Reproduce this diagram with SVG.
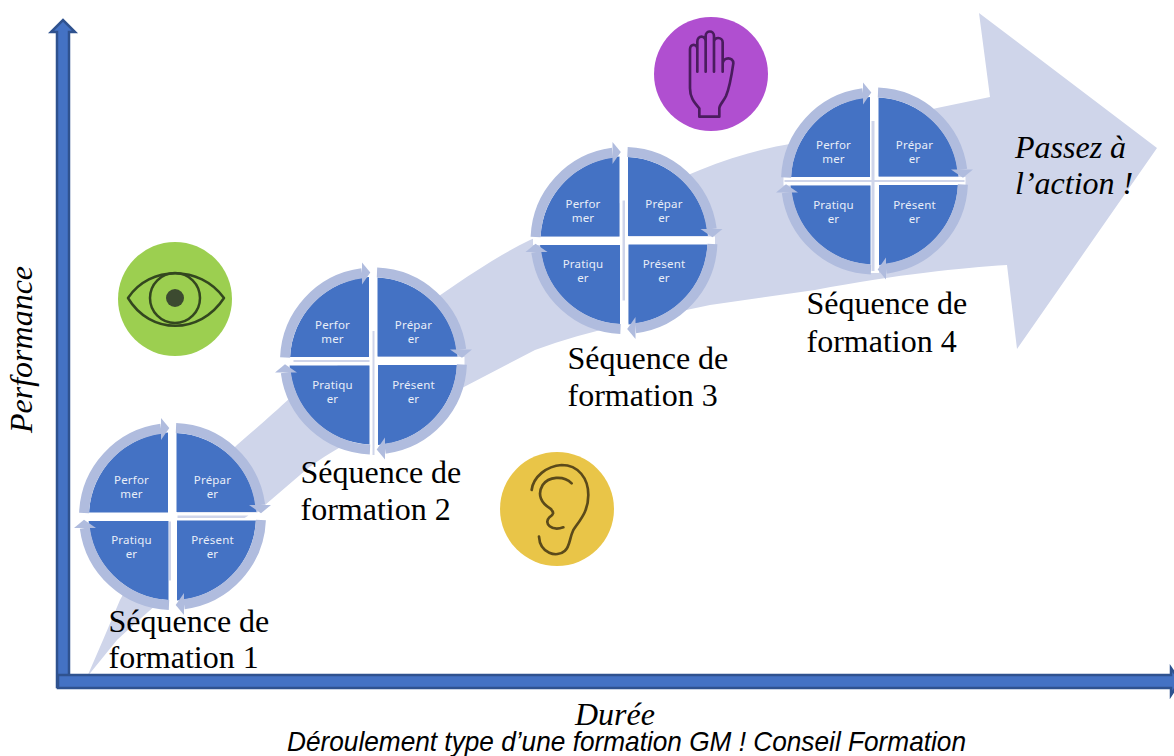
<svg xmlns="http://www.w3.org/2000/svg" width="1174" height="756" viewBox="0 0 1174 756">
<style>
.seq{font:32px "Liberation Serif",serif;fill:#000}
.it{font:italic 32px "Liberation Serif",serif;fill:#000}
.lab{font:11.5px "Noto Sans",sans-serif;letter-spacing:.2px;fill:#e9eef8;text-anchor:middle}
.ax{fill:#4472c4;stroke:#2f528f;stroke-width:2.5}
.icon{fill:none;stroke-linecap:round;stroke-linejoin:round}
.sl{fill:#cfd5ea}
</style>
<defs>
<g id="quad">
<path d="M-4.5,-4 L-83.4,-4 A84,84 0 0 1 -4.5,-83.9 Z" fill="#4472c4"/>
<path d="M-88.4,-3.5 A88.5,88.5 0 0 1 -11.5,-87.7" fill="none" stroke="#b0bcde" stroke-width="10"/>
<path d="M-3.2,-88.5 L-11.5,-98.5 L-11.5,-76.5 Z" fill="#b0bcde"/>
</g>
<g id="wheel">
<path d="M-91,-4 H-4.5 V-92 H4.5 V-4 H91 V4.5 H4.5 V92 H-4.5 V4.5 H-91 Z" fill="#fff"/>
<use href="#quad"/>
<use href="#quad" transform="rotate(90)"/>
<use href="#quad" transform="rotate(180)"/>
<use href="#quad" transform="rotate(270)"/>
</g>
</defs>
<g id="connectors">
<path id="growth-arrow" d="M87,677 L103,640 L120,600 C150,545 190,490 237,445 C260,425 275,412 290,398 L455,285 C480,268 505,252 530,240 L700,170 C730,158 760,149 790,144 L937,108 L990,97 L979,13 L1157,148 L1017,349 L1007,265 C960,268 900,274 815,290 L710,305 C650,318 590,330 535,350 L462,388 C400,420 340,440 300,475 L265,505 C220,550 160,600 117,640 Z" fill="#cfd5ea"/>
<path id="axis-y" class="ax" d="M57,687 V32 H51 L63,20 L75,32 H69 V687 Z"/>
<path id="axis-x" class="ax" d="M58,675 H1171 V668 L1180,681 L1171,695 V688 H58 Z"/>
</g>
<g id="icon-eye">
<circle cx="175" cy="299" r="57" fill="#9ccf50"/>
<path class="icon" d="M128,298 C150,265 200,265 224,298 C200,335 150,335 128,298 Z" stroke="#33471f" stroke-width="2.5"/>
<circle class="icon" cx="175" cy="298" r="25" stroke="#33471f" stroke-width="2.5"/>
<circle cx="175" cy="298" r="9" fill="#3c4a30"/>
</g>
<g id="icon-ear">
<circle cx="557" cy="509" r="57" fill="#e9c548"/>
<path class="icon" transform="translate(490,440) scale(.3333)" stroke="#5b4a1a" stroke-width="8" d="M125,150 C130,110 170,78 215,75 C265,75 295,115 295,165 C295,215 270,240 250,270 C238,295 240,320 225,332 C200,355 150,340 147,290"/>
<path class="icon" transform="translate(490,440) scale(.3333)" stroke="#5b4a1a" stroke-width="8" d="M245,130 C220,105 175,110 158,135 C140,165 155,190 180,205 C195,218 190,225 178,232 C160,250 185,275 220,262"/>
</g>
<g id="icon-hand">
<circle cx="711" cy="74" r="57" fill="#b04fd0"/>
<path class="icon" transform="translate(640,10) scale(.3333)" stroke="#4a1c5e" stroke-width="8" d="M178,320 V295 C160,275 150,260 150,235 V118 C150,100 172,100 172,118 V185 V95 C172,75 197,75 197,95 V185 V78 C197,60 222,60 222,78 V185 V95 C222,80 248,80 248,97 V185 V160 C250,140 280,140 280,160 C275,195 270,230 258,258 C250,275 238,285 238,295 V320 Z"/>
</g>
<g id="seq1" transform="translate(172.5,516.5)">
<use href="#wheel"/>
<path class="sl" d="M5,-1 H76 L72,1.5 H5 Z M-3.5,5 H-1.5 V64 H-3.5 Z"/>
<text class="lab" x="-41" y="-32.5">Perfor</text><text class="lab" x="-41" y="-18.5">mer</text>
<text class="lab" x="40" y="-32.5">Prépar</text><text class="lab" x="40" y="-18.5">er</text>
<text class="lab" x="-41" y="27.5">Pratiqu</text><text class="lab" x="-41" y="41.5">er</text>
<text class="lab" x="40" y="27.5">Présent</text><text class="lab" x="40" y="41.5">er</text>
</g>
<g id="seq2" transform="translate(373.5,361)">
<use href="#wheel"/>
<path class="sl" d="M-1,-30 H1 V94 H-1 Z M-4,-1 H-80 V1 H-4 Z"/>
<text class="lab" x="-41" y="-32.5">Perfor</text><text class="lab" x="-41" y="-18.5">mer</text>
<text class="lab" x="40" y="-32.5">Prépar</text><text class="lab" x="40" y="-18.5">er</text>
<text class="lab" x="-41" y="27.5">Pratiqu</text><text class="lab" x="-41" y="41.5">er</text>
<text class="lab" x="40" y="27.5">Présent</text><text class="lab" x="40" y="41.5">er</text>
</g>
<g id="seq3" transform="translate(624,240.5)">
<use href="#wheel"/>
<path class="sl" d="M-1.5,-40 H1 V60 H-1.5 Z"/>
<text class="lab" x="-41" y="-32.5">Perfor</text><text class="lab" x="-41" y="-18.5">mer</text>
<text class="lab" x="40" y="-32.5">Prépar</text><text class="lab" x="40" y="-18.5">er</text>
<text class="lab" x="-41" y="27.5">Pratiqu</text><text class="lab" x="-41" y="41.5">er</text>
<text class="lab" x="40" y="27.5">Présent</text><text class="lab" x="40" y="41.5">er</text>
</g>
<g id="seq4" transform="translate(874.5,181)">
<use href="#wheel"/>
<path class="sl" d="M-3,-60 H0 V90 H-3 Z M-90,-1 H90 V1 H-90 Z"/>
<text class="lab" x="-41" y="-32.5">Perfor</text><text class="lab" x="-41" y="-18.5">mer</text>
<text class="lab" x="40" y="-32.5">Prépar</text><text class="lab" x="40" y="-18.5">er</text>
<text class="lab" x="-41" y="27.5">Pratiqu</text><text class="lab" x="-41" y="41.5">er</text>
<text class="lab" x="40" y="27.5">Présent</text><text class="lab" x="40" y="41.5">er</text>
</g>
<g id="labels">
<text class="seq" x="108.500" y="632">Séquence de</text><text class="seq" x="108.500" y="668">formation 1</text>
<text class="seq" x="300.500" y="483">Séquence de</text><text class="seq" x="300.500" y="520">formation 2</text>
<text class="seq" x="567.500" y="369">Séquence de</text><text class="seq" x="567.500" y="406">formation 3</text>
<text class="seq" x="806.500" y="314">Séquence de</text><text class="seq" x="806.500" y="352">formation 4</text>
<text class="it" x="1015" y="158">Passez à</text><text class="it" x="1015" y="194">l’action !</text>
<text class="it" transform="translate(32,433) rotate(-90)">Performance</text>
<text class="it" x="575" y="725">Durée</text>
<text x="287" y="751" style="font:italic 28px 'Liberation Sans',sans-serif" textLength="679" lengthAdjust="spacingAndGlyphs">Déroulement type d’une formation GM ! Conseil Formation</text>
</g>
</svg>
